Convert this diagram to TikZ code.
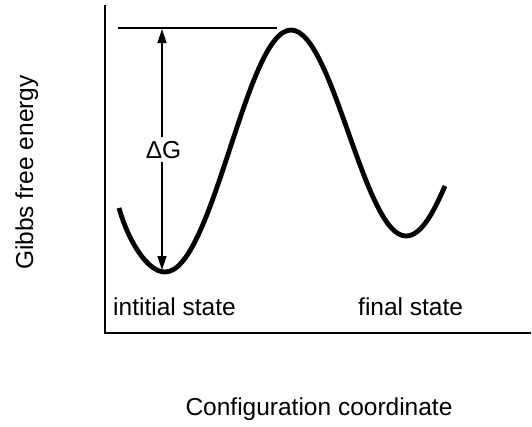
\documentclass[tikz,border=0pt]{standalone}
\usepackage{fontspec}
\setmainfont{Liberation Sans}
\usetikzlibrary{arrows.meta}
\begin{document}
\begin{tikzpicture}[x=1pt,y=-1pt,
  lbl/.style={font=\fontsize{24.5}{28}\selectfont, inner sep=0pt},
  axisline/.style={line width=1.8pt},
  curveline/.style={line width=4.8pt, line join=round},
  dgarrow/.style={line width=1.5pt, {Triangle[length=14pt,width=9pt]}-{Triangle[length=14pt,width=9pt]}}]
\useasboundingbox (0,0) rectangle (532,426);
% axes
\coordinate (ytop) at (105,5);
\coordinate (orig) at (105,333);
\coordinate (xend) at (531,333);
\draw[axisline] (ytop) -- (orig) -- (xend);
% level line of the barrier top
\coordinate (lvlL) at (118,28);
\coordinate (lvlR) at (277,28);
\draw[line width=1.8pt] (lvlL) -- (lvlR);
% energy curve
\coordinate (A) at (119,208);
\coordinate (B) at (165,272);
\coordinate (C) at (291,30);
\coordinate (D) at (406,236);
\coordinate (E) at (445,186);
\draw[curveline] (A) .. controls (128,240) and (147,272) .. (B)
  .. controls (213,272) and (246,30) .. (C)
  .. controls (333,30) and (364,236) .. (D)
  .. controls (423,236) and (436,206) .. (E);
% Delta G arrow
\coordinate (arrT) at (162,29);
\coordinate (arrB) at (162,270);
\draw[dgarrow] (arrT) -- (arrB);
\node[lbl, fill=white, text height=17.5pt, text depth=0pt, inner xsep=1pt, inner ysep=3.75pt] (dg) at (163.5,149.5) {ΔG};
% labels
\node[lbl, anchor=base west] (init) at (113,315) {intitial state};
\node[lbl, anchor=base west] (final) at (358,315) {final state};
\node[lbl, anchor=base] (xlab) at (319,415.5) {Configuration coordinate};
\node[lbl, anchor=base, rotate=90] (ylab) at (33,172.5) {Gibbs free energy};
\end{tikzpicture}
\end{document}
